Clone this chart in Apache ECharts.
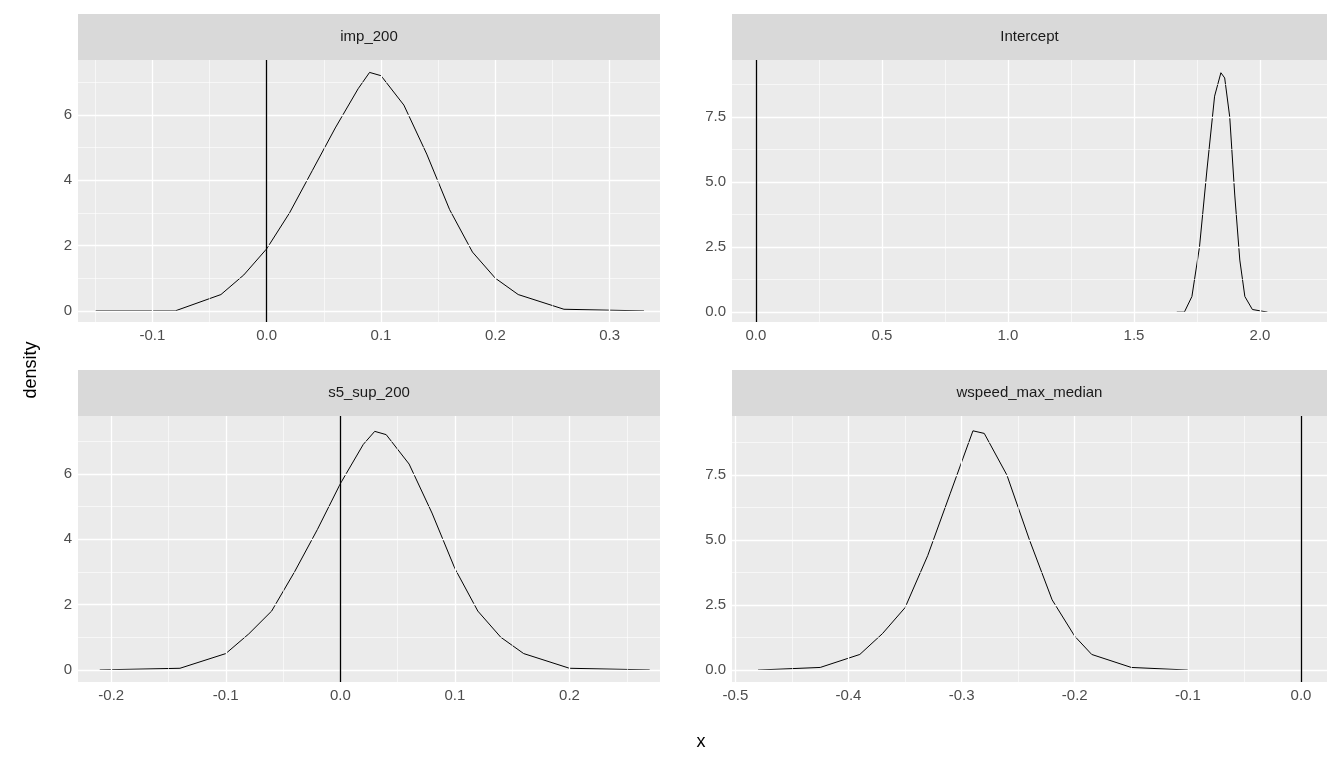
<!DOCTYPE html>
<html>
<head>
<meta charset="utf-8">
<title>density</title>
<script src="https://cdn.jsdelivr.net/npm/echarts@6/dist/echarts.min.js"></script>
<style>body{margin:0;background:#fff}</style>
</head>
<body>
<div id="main" style="width:1344px;height:768px"></div>
<script>
// panel names
var panels = ['imp_200', 'Intercept', 's5_sup_200', 'wspeed_max_median'];

// density curves [x, density]
var impCurve = [[-0.15,0],[-0.08,0],[-0.04,0.5],[-0.02,1.1],[0,1.9],[0.02,3.0],[0.04,4.3],[0.06,5.6],[0.08,6.8],[0.09,7.3],[0.1,7.2],[0.12,6.3],[0.14,4.8],[0.16,3.1],[0.18,1.8],[0.2,1.0],[0.22,0.5],[0.26,0.05],[0.33,0]];
var interceptCurve = [[1.67,0],[1.70,0],[1.73,0.6],[1.76,2.5],[1.79,5.5],[1.82,8.3],[1.845,9.2],[1.86,9.0],[1.88,7.5],[1.90,4.5],[1.92,2.0],[1.94,0.6],[1.97,0.1],[2.03,0]];
var s5Curve = [[-0.21,0],[-0.14,0.05],[-0.1,0.5],[-0.08,1.1],[-0.06,1.8],[-0.04,3.0],[-0.02,4.3],[0,5.7],[0.02,6.9],[0.03,7.3],[0.04,7.2],[0.06,6.3],[0.08,4.8],[0.1,3.1],[0.12,1.8],[0.14,1.0],[0.16,0.5],[0.2,0.05],[0.27,0]];
var wspeedCurve = [[-0.48,0],[-0.425,0.1],[-0.39,0.6],[-0.37,1.4],[-0.35,2.4],[-0.33,4.4],[-0.31,6.8],[-0.29,9.2],[-0.28,9.1],[-0.26,7.5],[-0.24,5.0],[-0.22,2.7],[-0.2,1.3],[-0.185,0.6],[-0.15,0.1],[-0.1,0]];
var curves = [impCurve, interceptCurve, s5Curve, wspeedCurve];

// axis ranges and ticks
var xRanges = [[-0.165,0.344],[-0.095,2.266],[-0.229,0.279],[-0.503,0.023]];
var yRanges = [[-0.34,7.68],[-0.38,9.69],[-0.37,7.77],[-0.46,9.77]];
var xMajor = [[-0.1,0,0.1,0.2,0.3],[0,0.5,1,1.5,2],[-0.2,-0.1,0,0.1,0.2],[-0.5,-0.4,-0.3,-0.2,-0.1,0]];
var xMinor = [[-0.15,-0.05,0.05,0.15,0.25],[0.25,0.75,1.25,1.75],[-0.15,-0.05,0.05,0.15,0.25],[-0.45,-0.35,-0.25,-0.15,-0.05]];
var yMajor = [[0,2,4,6],[0,2.5,5,7.5],[0,2,4,6],[0,2.5,5,7.5]];
var yMinor = [[1,3,5,7],[1.25,3.75,6.25,8.75],[1,3,5,7],[1.25,3.75,6.25,8.75]];
var xLabels = [['-0.1','0.0','0.1','0.2','0.3'],['0.0','0.5','1.0','1.5','2.0'],['-0.2','-0.1','0.0','0.1','0.2'],['-0.5','-0.4','-0.3','-0.2','-0.1','0.0']];
var yLabels = [['0','2','4','6'],['0.0','2.5','5.0','7.5'],['0','2','4','6'],['0.0','2.5','5.0','7.5']];
var vline = [0, 0, 0, 0];

var boxes = [
  {left:78, top:60, width:582, height:262, strip:14},
  {left:732, top:60, width:595, height:262, strip:14},
  {left:78, top:416, width:582, height:266, strip:370},
  {left:732, top:416, width:595, height:266, strip:370}
];

var grids = [], xAxes = [], yAxes = [], series = [], graphics = [];
function fmt(lbls, vals){ return function(v){ for (var k=0;k<vals.length;k++) if (Math.abs(vals[k]-v)<1e-9) return lbls[k]; return ''; }; }

boxes.forEach(function(b, i){
  grids.push({left:b.left, top:b.top, width:b.width, height:b.height, show:true, backgroundColor:'#EBEBEB', borderWidth:0});
  xAxes.push({type:'value', gridIndex:i, min:xRanges[i][0], max:xRanges[i][1],
    axisLine:{show:false}, splitLine:{show:false},
    axisTick:{show:true, length:4, lineStyle:{color:'#333'}, customValues:xMajor[i]},
    axisLabel:{color:'#4d4d4d', fontSize:15, margin:6, fontFamily:'Liberation Sans', customValues:xMajor[i], formatter:fmt(xLabels[i], xMajor[i])}});
  yAxes.push({type:'value', gridIndex:i, min:yRanges[i][0], max:yRanges[i][1],
    axisLine:{show:false}, splitLine:{show:false},
    axisTick:{show:true, length:4, lineStyle:{color:'#333'}, customValues:yMajor[i]},
    axisLabel:{color:'#4d4d4d', fontSize:15, margin:6, fontFamily:'Liberation Sans', customValues:yMajor[i], formatter:fmt(yLabels[i], yMajor[i])}});
  var ml = [];
  xMinor[i].forEach(function(v){ ml.push({xAxis:v, lineStyle:{color:'#fff', width:0.6, type:'solid'}}); });
  yMinor[i].forEach(function(v){ ml.push({yAxis:v, lineStyle:{color:'#fff', width:0.6, type:'solid'}}); });
  xMajor[i].forEach(function(v){ ml.push({xAxis:v, lineStyle:{color:'#fff', width:1.3, type:'solid'}}); });
  yMajor[i].forEach(function(v){ ml.push({yAxis:v, lineStyle:{color:'#fff', width:1.3, type:'solid'}}); });
  series.push({type:'line', xAxisIndex:i, yAxisIndex:i, data:[], silent:true, z:1,
    markLine:{silent:true, symbol:'none', label:{show:false}, animation:false, data:ml}});
  series.push({type:'line', xAxisIndex:i, yAxisIndex:i, data:curves[i], showSymbol:false, z:3,
    lineStyle:{color:'#000', width:1}, animation:false,
    markLine:{silent:true, symbol:'none', label:{show:false}, animation:false,
      data:[{xAxis:vline[i], lineStyle:{color:'#000', width:1.3, type:'solid'}}]}});
  graphics.push({type:'rect', shape:{x:b.left, y:b.strip, width:b.width, height:46}, style:{fill:'#D9D9D9'}});
  graphics.push({type:'text', x:b.left+b.width/2, y:b.strip+23, style:{text:panels[i], fill:'#1a1a1a', fontSize:15, fontFamily:'Liberation Sans', align:'center', verticalAlign:'middle'}});
});
graphics.push({type:'text', x:701, y:742, style:{text:'x', fill:'#000', fontSize:18, fontFamily:'Liberation Sans', align:'center', verticalAlign:'middle'}});
graphics.push({type:'text', x:31, y:370, rotation:Math.PI/2, style:{text:'density', fill:'#000', fontSize:18, fontFamily:'Liberation Sans', align:'center', verticalAlign:'middle'}});

var myChart = echarts.init(document.getElementById('main'));
myChart.setOption({animation:false, backgroundColor:'#fff', grid:grids, xAxis:xAxes, yAxis:yAxes, series:series, graphic:graphics});
</script>
</body>
</html>
